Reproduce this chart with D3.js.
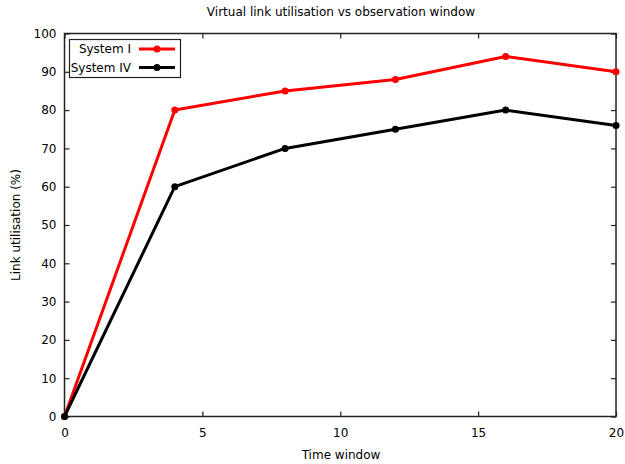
<!DOCTYPE html>
<html>
<head>
<meta charset="utf-8">
<script src="https://cdn.jsdelivr.net/npm/d3@7"></script>
<style>
  body { margin: 0; background: #fff; }
  text { font-family: "DejaVu Sans", sans-serif; fill: #000; }
</style>
</head>
<body>
<div id="chart"></div>
<script>
// data
var windows = [0, 4, 8, 12, 16, 20];
var systemI = [0, 80, 85, 88, 94, 90];
var systemIV = [0, 60, 70, 75, 80, 76];
var seriesNames = ["System I", "System IV"];
var seriesColors = ["#ff0000", "#000000"];
var xTicks = [0, 5, 10, 15, 20];
var yTicks = [0, 10, 20, 30, 40, 50, 60, 70, 80, 90, 100];

var width = 625,
    height = 464;
var margin = { top: 33.5, left: 64.5, bottom: 47.5, right: 9 };

var svg = d3.select("#chart").append("svg")
    .attr("width", width)
    .attr("height", height);

var x = d3.scaleLinear().domain([0, 20]).range([margin.left, width - margin.right]);
var y = d3.scaleLinear().domain([0, 100]).range([height - margin.bottom, margin.top]);

// frame
svg.append("rect")
    .attr("x", x(0)).attr("y", y(100))
    .attr("width", x(20) - x(0)).attr("height", y(0) - y(100))
    .attr("fill", "none").attr("stroke", "#222").attr("stroke-width", 1.5);

// bottom axis, ticks pointing inward
var xAxis = svg.append("g")
    .attr("transform", "translate(0," + y(0) + ")")
    .call(d3.axisBottom(x).tickValues(xTicks).tickSize(-5).tickPadding(12));
xAxis.select(".domain").remove();
xAxis.selectAll("text").style("font-size", "12px").attr("font-family", null);

// top mirror ticks
svg.append("g")
    .attr("transform", "translate(0," + y(100) + ")")
    .call(d3.axisTop(x).tickValues(xTicks).tickSize(-5).tickFormat(""))
    .select(".domain").remove();

// left axis
var yAxis = svg.append("g")
    .attr("transform", "translate(" + x(0) + ",0)")
    .call(d3.axisLeft(y).tickValues(yTicks).tickSize(-5).tickPadding(8));
yAxis.select(".domain").remove();
yAxis.selectAll("text").style("font-size", "12px").attr("font-family", null);

// right mirror ticks
svg.append("g")
    .attr("transform", "translate(" + x(20) + ",0)")
    .call(d3.axisRight(y).tickValues(yTicks).tickSize(-5).tickFormat(""))
    .select(".domain").remove();

svg.selectAll(".tick line").attr("stroke", "#222").attr("stroke-width", 1.2);

// series
var series = [systemI, systemIV];
var line = d3.line()
    .x(function(d, i) { return x(windows[i]); })
    .y(function(d) { return y(d); });

// draw black first so red sits under? red drawn first, black on top
series.forEach(function(vals, s) {
  svg.append("path")
      .datum(vals)
      .attr("d", line)
      .attr("fill", "none")
      .attr("stroke", seriesColors[s])
      .attr("stroke-width", 3)
      .attr("stroke-linejoin", "round");
  svg.selectAll(".pt" + s)
      .data(vals)
    .enter().append("circle")
      .attr("cx", function(d, i) { return x(windows[i]); })
      .attr("cy", function(d) { return y(d); })
      .attr("r", 3.5)
      .attr("fill", seriesColors[s]);
});

// legend
var legend = svg.append("g");
legend.append("rect")
    .attr("x", 69.5).attr("y", 39.5)
    .attr("width", 111).attr("height", 38)
    .attr("fill", "#fff").attr("stroke", "#222").attr("stroke-width", 1.2);

seriesNames.forEach(function(name, s) {
  var ly = 49 + s * 18.5;
  legend.append("text")
      .attr("x", 131).attr("y", ly)
      .attr("dy", "0.35em")
      .attr("text-anchor", "end")
      .style("font-size", "12px")
      .text(name);
  legend.append("line")
      .attr("x1", 139).attr("x2", 175)
      .attr("y1", ly).attr("y2", ly)
      .attr("stroke", seriesColors[s]).attr("stroke-width", 3);
  legend.append("circle")
      .attr("cx", 157).attr("cy", ly).attr("r", 3.5)
      .attr("fill", seriesColors[s]);
});

// titles
svg.append("text")
    .attr("x", 341).attr("y", 16)
    .attr("text-anchor", "middle")
    .style("font-size", "12px")
    .text("Virtual link utilisation vs observation window");

svg.append("text")
    .attr("x", 341).attr("y", 459)
    .attr("text-anchor", "middle")
    .style("font-size", "12px")
    .text("Time window");

svg.append("text")
    .attr("transform", "translate(20," + 225 + ") rotate(-90)")
    .attr("text-anchor", "middle")
    .style("font-size", "12px")
    .text("Link utilisation (%)");
</script>
</body>
</html>
